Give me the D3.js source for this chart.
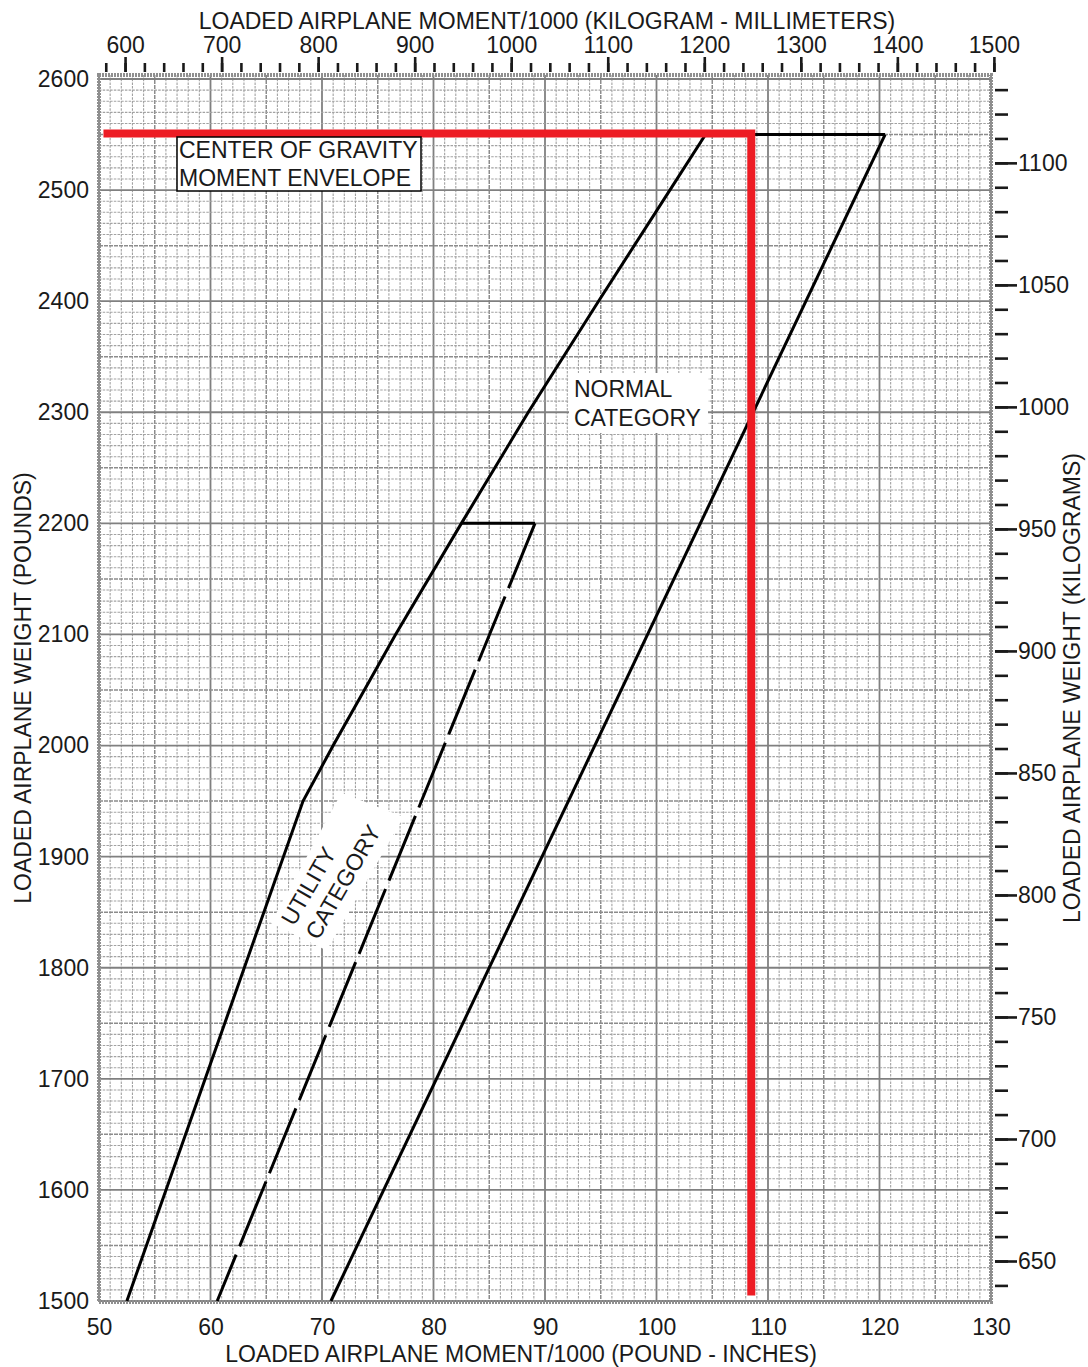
<!DOCTYPE html>
<html><head><meta charset="utf-8">
<script src="https://cdn.jsdelivr.net/npm/d3@7"></script>
<style>
body{margin:0;background:#fff}
svg text{font-family:"Liberation Sans",Arial,Helvetica,sans-serif;fill:#1a1a1a;font-size:23px}
</style>
</head><body>
<svg id="c" width="1088" height="1367"></svg>
<script>
// ---- data ----
const momentLbInTicks = [50,60,70,80,90,100,110,120,130];
const weightLbTicks = [1500,1600,1700,1800,1900,2000,2100,2200,2300,2400,2500,2600];
const momentKgmmTicks = [600,700,800,900,1000,1100,1200,1300,1400,1500];
const momentKgmmMinor = d3.range(580,1501,20);
const weightKgTicks = [650,700,750,800,850,900,950,1000,1050,1100];
const weightKgMinor = d3.range(640,1131,10);
// envelope (moment lb-in/1000, weight lb)
const forwardLimit = [[52.5,1500],[68.3,1950],[71.0,2000],[76.6,2100],[82.5,2200],[88.5,2300],[94.8,2400],[101.2,2500],[104.4,2550]];
const topLimit = [[104.4,2550],[120.5,2550]];
const aftLimit = [[120.5,2550],[70.8,1500]];
const utilityTop = [[82.5,2200],[89.1,2200]];
const utilityAft = [[89.1,2200],[60.6,1500]];
const cgExample = [[50.4,2551],[108.5,2551],[108.5,1505]];

// ---- scales ----
const L=99,R=991,T=75,B=1302;
const x = d3.scaleLinear([50,130],[L,R]);
const y = d3.scaleLinear([1500,2600],[1301,79]);
const xTop = d3.scaleLinear([573,1497],[L,R]);
const yKg = d3.scaleLinear([633.2,1136],[B,T]);

const svg = d3.select("#c");

// ---- grid ----
const grid = svg.append("g");
const vx = d3.range(50,131,1), hy = d3.range(1500,2601,10);
function gstyle(sel, k){
  sel.attr("stroke", k%10===0 ? "#808080" : (k%5===0 ? "#8c8c8c" : "#a2a2a2"))
     .attr("stroke-width", k%10===0 ? 1.8 : (k%5===0 ? 1.5 : 1.1))
     .attr("stroke-dasharray", k%10===0 ? null : (k%5===0 ? "4,1" : "2.5,1.2"));
}
vx.forEach(v=>{ grid.append("line").attr("x1",x(v)).attr("x2",x(v)).attr("y1",T).attr("y2",B).call(gstyle, v); });
hy.forEach(w=>{ grid.append("line").attr("x1",L).attr("x2",R).attr("y1",y(w)).attr("y2",y(w)).call(gstyle, w/10); });
svg.append("rect").attr("x",L).attr("y",T).attr("width",R-L).attr("height",B-T)
  .attr("fill","none").attr("stroke","#8f8f8f").attr("stroke-width",4).attr("stroke-dasharray","2,1");

// ---- axes ----
function clean(g){ g.select(".domain").remove(); g.selectAll("text").attr("font-size",23).attr("font-family",null).attr("fill","#1a1a1a"); g.selectAll("line").attr("stroke","#1a1a1a").attr("stroke-width",2.6); }
svg.append("g").attr("transform",`translate(0,72)`)
  .call(d3.axisTop(xTop).tickValues(momentKgmmMinor).tickSize(9).tickFormat("")).call(clean);
svg.append("g").attr("transform",`translate(0,72)`)
  .call(d3.axisTop(xTop).tickValues(momentKgmmTicks).tickSize(15).tickPadding(4).tickFormat(d3.format("d"))).call(clean);
svg.append("g").attr("transform",`translate(0,${B})`)
  .call(d3.axisBottom(x).tickValues(momentLbInTicks).tickSize(0).tickPadding(17).tickFormat(d3.format("d"))).call(clean);
svg.append("g").attr("transform",`translate(${L},0)`)
  .call(d3.axisLeft(y).tickValues(weightLbTicks).tickSize(0).tickPadding(10).tickFormat(d3.format("d"))).call(clean);
svg.append("g").attr("transform",`translate(995,0)`)
  .call(d3.axisRight(yKg).tickValues(weightKgMinor).tickSize(13).tickFormat("")).call(clean);
svg.append("g").attr("transform",`translate(995,0)`)
  .call(d3.axisRight(yKg).tickValues(weightKgTicks).tickSize(22).tickPadding(1).tickFormat(d3.format("d"))).call(clean);

// ---- titles ----
svg.append("text").attr("x",547).attr("y",29).attr("text-anchor","middle").text("LOADED AIRPLANE MOMENT/1000 (KILOGRAM - MILLIMETERS)");
svg.append("text").attr("x",521).attr("y",1362).attr("text-anchor","middle").text("LOADED AIRPLANE MOMENT/1000 (POUND - INCHES)");
svg.append("text").attr("transform","translate(31,688) rotate(-90)").attr("text-anchor","middle").text("LOADED AIRPLANE WEIGHT (POUNDS)");
svg.append("text").attr("transform","translate(1080,688) rotate(-90)").attr("text-anchor","middle").text("LOADED AIRPLANE WEIGHT (KILOGRAMS)");

// ---- label backgrounds ----
svg.append("rect").attr("x",569).attr("y",373).attr("width",139).attr("height",60).attr("fill","#fff");
const ut = svg.append("g").attr("transform","translate(294,927) rotate(-60)");
ut.append("path").attr("d","M-8,-22 L140,-26 L150,40 L-4,40 Z").attr("fill","#fff");

// ---- envelope ----
const line = d3.line().x(d=>x(d[0])).y(d=>y(d[1]));
const env = svg.append("g").attr("fill","none").attr("stroke","#000").attr("stroke-width",3).attr("stroke-linejoin","miter");
[forwardLimit, topLimit, aftLimit, utilityTop].forEach(d=>env.append("path").attr("d",line(d)));
env.append("path").attr("d",line(utilityAft)).attr("stroke-dasharray","70,9");

// ---- CG example (red) ----
svg.append("path").attr("d",line(cgExample)).attr("fill","none").attr("stroke","#ed1c24").attr("stroke-width",8).attr("stroke-linejoin","miter");

// ---- labels ----
svg.append("rect").attr("x",177).attr("y",137).attr("width",244).attr("height",54).attr("fill","#fff").attr("stroke","#000").attr("stroke-width",1.5);
svg.append("text").attr("x",179).attr("y",158).text("CENTER OF GRAVITY");
svg.append("text").attr("x",179).attr("y",186).text("MOMENT ENVELOPE");
svg.append("text").attr("x",574).attr("y",397).text("NORMAL");
svg.append("text").attr("x",574).attr("y",426).text("CATEGORY");
ut.append("text").attr("x",0).attr("y",0).text("UTILITY");
ut.append("text").attr("x",0).attr("y",28).text("CATEGORY");
</script>
</body></html>
